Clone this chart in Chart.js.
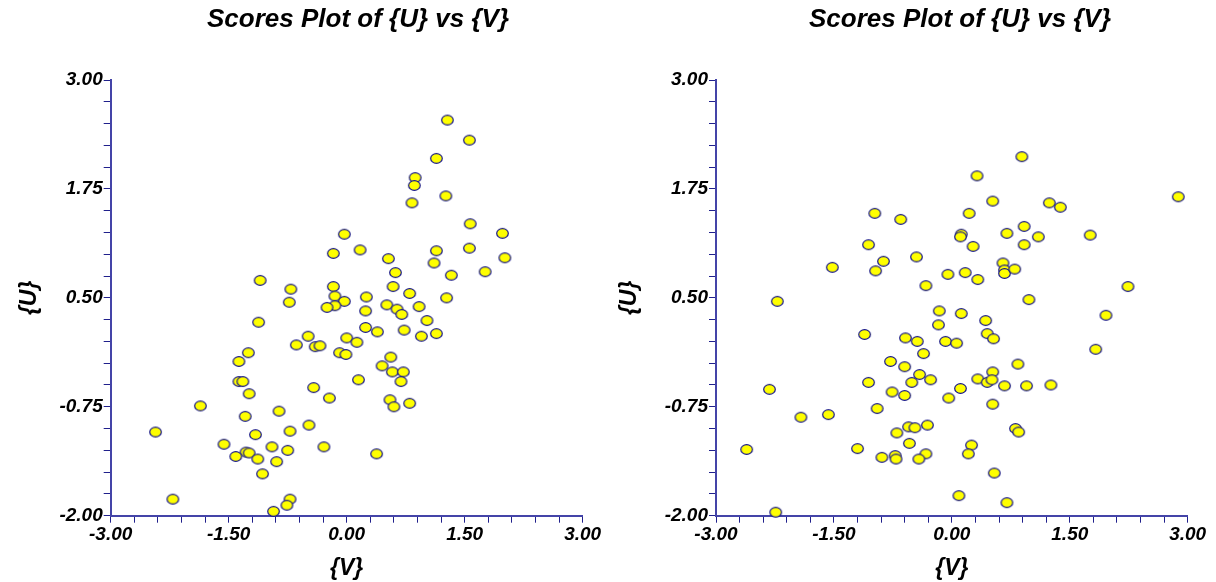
<!DOCTYPE html>
<html><head><meta charset="utf-8">
<script src="https://cdn.jsdelivr.net/npm/chart.js@4.4.1/dist/chart.umd.min.js"></script>
<style>
html,body{margin:0;padding:0;background:#fff;overflow:hidden;width:1216px;height:582px;}
.wrap{position:absolute;top:0;}
</style></head><body>
<div class="wrap" style="left:0px"><canvas id="c1" width="716" height="582"></canvas></div>
<div class="wrap" style="left:600px"><canvas id="c2" width="720" height="582"></canvas></div>
<script>
const chartTitle = 'Scores Plot of {U} vs {V}';
const xTitle = '{V}';
const yTitle = '{U}';
const xMajorTicks = [-3, -1.5, 0, 1.5, 3];
const yMajorTicks = [-2, -0.75, 0.5, 1.75, 3];

const leftV = [-0.03,-0.17,0.17,-1.10,-0.71,-0.73,-0.17,-0.15,-0.03,-0.15,-0.25,-1.12,-0.49,-0.64,-0.40,-0.34,0.00,0.13,-0.09,-0.01,-1.25,-1.37,0.24,0.24,
  1.28,1.56,1.14,0.87,0.86,1.26,0.83,1.57,1.98,0.53,1.14,1.11,1.56,2.01,1.76,1.33,0.62,0.59,0.80,0.25,1.27,0.51,0.64,0.70,0.92,1.02,0.39,0.73,0.95,1.14,
  0.56,0.45,0.58,0.72,0.69,0.15,-0.42,-0.22,0.55,0.60,0.80,-0.48,-0.29,0.38,
  -1.37,-1.32,-1.24,-1.86,-1.29,-0.86,-2.43,-0.72,-1.16,-1.56,-0.95,-0.75,-1.28,-1.24,-1.41,-1.13,-0.89,-1.07,-2.21,-0.72,-0.76,-0.93];
const leftU = [1.23,1.01,1.05,0.70,0.60,0.45,0.63,0.52,0.46,0.41,0.39,0.22,0.06,-0.04,-0.06,-0.05,0.04,-0.01,-0.13,-0.15,-0.13,-0.23,0.35,0.16,
  2.54,2.31,2.10,1.88,1.79,1.67,1.59,1.35,1.24,0.95,1.04,0.90,1.07,0.96,0.80,0.76,0.79,0.63,0.55,0.51,0.50,0.42,0.37,0.31,0.40,0.24,0.11,0.13,0.06,0.09,
  -0.18,-0.28,-0.35,-0.35,-0.46,-0.44,-0.53,-0.65,-0.67,-0.75,-0.71,-0.96,-1.21,-1.29,
  -0.46,-0.46,-0.60,-0.74,-0.86,-0.80,-1.04,-1.03,-1.07,-1.18,-1.21,-1.25,-1.27,-1.28,-1.32,-1.35,-1.38,-1.52,-1.81,-1.81,-1.88,-1.95];

const rightV = [-0.98,-0.65,-1.06,-0.87,-0.97,-1.52,-0.45,-0.33,-2.22,-0.16,-0.17,-1.11,-0.59,-0.44,-0.36,-0.78,
  0.89,0.32,0.52,1.24,1.38,2.88,0.22,0.12,0.11,0.70,0.92,1.10,0.92,1.76,0.27,0.65,0.67,0.67,0.80,-0.05,0.17,0.33,2.24,0.98,
  0.12,0.43,1.96,0.45,0.53,-0.08,0.06,1.83,0.84,0.52,0.33,0.45,0.51,0.67,0.95,1.26,-0.27,-0.41,0.11,-0.04,0.52,-0.31,0.81,0.85,
  0.25,0.21,-0.33,-0.42,0.54,0.09,0.70,-0.60,-0.51,-1.06,-0.76,-0.60,-2.32,-0.95,-1.92,-1.57,-0.55,-0.47,-0.70,-0.54,-1.20,-2.61,-0.89,-0.72,-0.71,-2.24];
const rightU = [1.47,1.40,1.11,0.92,0.81,0.85,0.97,0.64,0.46,0.35,0.19,0.08,0.04,0.00,-0.14,-0.23,
  2.12,1.90,1.61,1.59,1.54,1.66,1.47,1.23,1.20,1.24,1.32,1.20,1.11,1.22,1.09,0.90,0.82,0.78,0.83,0.77,0.79,0.71,0.63,0.48,
  0.32,0.24,0.30,0.09,0.03,0.00,-0.02,-0.09,-0.26,-0.35,-0.43,-0.47,-0.44,-0.51,-0.51,-0.50,-0.44,-0.38,-0.54,-0.65,-0.72,-0.96,-1.00,-1.04,
  -1.19,-1.29,-1.29,-1.35,-1.51,-1.77,-1.85,-0.29,-0.47,-0.47,-0.58,-0.62,-0.55,-0.77,-0.87,-0.84,-0.98,-0.99,-1.05,-1.17,-1.23,-1.24,-1.33,-1.31,-1.35,-1.96];

const FONT = "'Liberation Sans', Arial, sans-serif";

function makeMarker() {
  const c = document.createElement('canvas');
  c.width = 15; c.height = 13;
  const g = c.getContext('2d');
  g.beginPath();
  g.ellipse(7.5, 6.5, 5.8, 4.8, 0, 0, Math.PI * 2);
  g.fillStyle = '#ffff00';
  g.fill();
  g.lineWidth = 1.2;
  g.strokeStyle = '#14148a';
  g.stroke();
  return c;
}

function labeler(major) {
  return function (v) {
    for (const m of major) if (Math.abs(v - m) < 1e-6) return m.toFixed(2);
    return '';
  };
}

function makeChart(id, V, U, yWidth, rightWidth) {
  const pts = V.map((v, i) => ({x: v, y: U[i]}));
  const axisColor = '#4444a8';
  const tickColor = '#20208c';
  return new Chart(document.getElementById(id), {
    type: 'scatter',
    data: {datasets: [{data: pts, pointStyle: makeMarker(), pointRadius: 6, clip: false, showLine: false}]},
    options: {
      responsive: false,
      animation: false,
      events: [],
      layout: {padding: 0},
      plugins: {
        legend: {display: false},
        tooltip: {enabled: false},
        title: {
          display: true, text: chartTitle, color: '#000',
          font: {family: FONT, size: 26, weight: 'bold', style: 'italic', lineHeight: 1.2},
          padding: {top: 4, bottom: 44.8}
        }
      },
      scales: {
        x: {
          type: 'linear', position: 'bottom', min: -3, max: 3,
          afterFit: s => { s.height = 66.3; },
          ticks: {stepSize: 0.3, autoSkip: false, maxRotation: 0, minRotation: 0, padding: 1,
            color: '#000', font: {family: FONT, size: 19, weight: 'bold', style: 'italic'},
            callback: labeler(xMajorTicks)},
          grid: {display: true, drawOnChartArea: false, drawTicks: true, tickLength: 7, tickColor: tickColor, lineWidth: 1},
          border: {display: true, color: axisColor, width: 2},
          title: {display: true, text: xTitle, color: '#000', padding: {top: 0, bottom: 0},
            font: {family: FONT, size: 23, weight: 'bold', style: 'italic', lineHeight: 1.2}}
        },
        y: {
          type: 'linear', position: 'left', min: -2, max: 3,
          afterFit: s => { s.width = yWidth; },
          ticks: {stepSize: 0.25, autoSkip: false, padding: 1,
            color: '#000', font: {family: FONT, size: 19, weight: 'bold', style: 'italic'},
            callback: labeler(yMajorTicks)},
          grid: {display: true, drawOnChartArea: false, drawTicks: true, tickLength: 7, tickColor: tickColor, lineWidth: 1},
          border: {display: true, color: axisColor, width: 2},
          title: {display: true, text: yTitle, color: '#000', padding: {top: 16.2, bottom: 0},
            font: {family: FONT, size: 23, weight: 'bold', style: 'italic', lineHeight: 1.2}}
        },
        yR: {
          type: 'linear', position: 'right', display: true,
          afterFit: s => { s.width = rightWidth; },
          ticks: {display: false}, grid: {display: false}, border: {display: false}
        }
      }
    }
  });
}

makeChart('c1', leftV, leftU, 110.7, 716 - 582.7);
makeChart('c2', rightV, rightU, 116, 720 - 587.7);
</script>
</body></html>
